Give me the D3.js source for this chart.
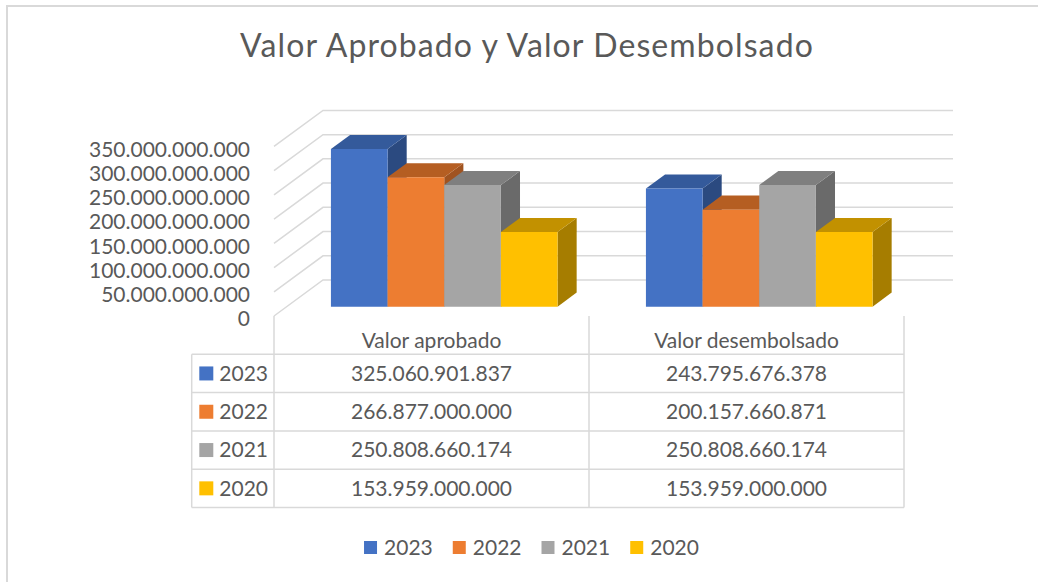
<!DOCTYPE html>
<html>
<head>
<meta charset="utf-8">
<script src="https://cdn.jsdelivr.net/npm/d3@7"></script>
<style>
  html, body { margin: 0; padding: 0; background: #fff; }
  svg { display: block; }
  text { font-family: Lato, "Open Sans", sans-serif; fill: #595959; }
</style>
</head>
<body>
<svg id="chart"></svg>
<script>
// Data.
const categories = ['Valor aprobado', 'Valor desembolsado'];
const years = ['2023', '2022', '2021', '2020'];
const values2023 = [325060901837, 243795676378];
const values2022 = [266877000000, 200157660871];
const values2021 = [250808660174, 250808660174];
const values2020 = [153959000000, 153959000000];
const seriesValues = [values2023, values2022, values2021, values2020];
const yTicks = [0, 50e9, 100e9, 150e9, 200e9, 250e9, 300e9, 350e9];

// Face colours: front, top, side.
const frontColors = ['#4472c4', '#ed7d31', '#a5a5a5', '#ffc000'];
const topColors = ['#345a9b', '#b55e22', '#7f7f7f', '#c29100'];
const sideColors = ['#2b4a80', '#a05320', '#6a6a6a', '#a67d00'];

const width = 1038, height = 582;
const grid = '#d9d9d9';
const fmt = d3.formatLocale({decimal: ',', thousands: '.', grouping: [3], currency: ['$', '']}).format(',d');

const svg = d3.select('#chart').attr('width', width).attr('height', height);

// Chart frame (only top and left edges are in view).
svg.append('path')
  .attr('d', `M7,${height} L7,6 L${width},6`)
  .attr('fill', 'none').attr('stroke', grid).attr('stroke-width', 2);

svg.append('text')
  .attr('x', 527).attr('y', 57)
  .attr('text-anchor', 'middle')
  .style('font-size', '32px')
  .style('letter-spacing', '1.1px')
  .text('Valor Aprobado y Valor Desembolsado');

// Scales on the front plane, plus an oblique depth vector.
const x = d3.scaleBand().domain(categories).range([274, 904]);
const y = d3.scaleLinear().domain([0, 350e9]).range([316, 146.4]);
const s = d3.scaleBand().domain(years).range([0, x.bandwidth()]).paddingInner(0).paddingOuter(0.78);
const DX = 49, DY = -36;
const f0 = 0.26, f1 = 0.65;  // bar front and back depth
const P = (px, py, f) => [px + f * DX, py + f * DY];
const poly = (pts) => 'M' + pts.map(p => p.join(',')).join('L') + 'Z';

const plot = svg.append('g');

// Walls.
const [x0, x1] = x.range();
yTicks.forEach((t) => {
  const a = P(x0, y(t), 0), b = P(x0, y(t), 1), c = P(x1, y(t), 1);
  plot.append('path')
    .attr('d', `M${a}L${b}L${c}`)
    .attr('fill', 'none').attr('stroke', grid).attr('stroke-width', 1.5);
});

// Axis labels.
plot.selectAll('.ylab').data(yTicks).join('text')
  .attr('class', 'ylab')
  .attr('x', 250).attr('y', d => y(d) + 3)
  .attr('dy', '0.35em')
  .attr('text-anchor', 'end')
  .style('font-size', '21px')
  .text(d => fmt(d));

// 3D bars, left to right so nearer faces overlap correctly.
categories.forEach((cat, ci) => {
  years.forEach((yr, si) => {
    const v = seriesValues[si][ci];
    const bx0 = x(cat) + s(yr), bx1 = bx0 + s.bandwidth();
    const yb = y(0), yt = y(v);
    const g = plot.append('g');
    g.append('path').attr('d', poly([P(bx1, yt, f0), P(bx1, yt, f1), P(bx1, yb, f1), P(bx1, yb, f0)]))
      .attr('fill', sideColors[si]);
    g.append('path').attr('d', poly([P(bx0, yt, f0), P(bx1, yt, f0), P(bx1, yt, f1), P(bx0, yt, f1)]))
      .attr('fill', topColors[si]);
    g.append('path').attr('d', poly([P(bx0, yt, f0), P(bx1, yt, f0), P(bx1, yb, f0), P(bx0, yb, f0)]))
      .attr('fill', frontColors[si]);
  });
});

// Data table.
const tLeft = 191.7, tTop = 316, headBottom = 354.3, rowH = 38.3;
const tBottom = headBottom + rowH * years.length;
const table = svg.append('g').attr('stroke', grid).attr('stroke-width', 1.5);
[x0, x(categories[1]), x1].forEach((px) => {
  table.append('line').attr('x1', px).attr('x2', px).attr('y1', tTop).attr('y2', tBottom);
});
table.append('line').attr('x1', tLeft).attr('x2', tLeft).attr('y1', headBottom).attr('y2', tBottom);
d3.range(years.length + 1).forEach((i) => {
  const py = headBottom + i * rowH;
  table.append('line').attr('x1', tLeft).attr('x2', x1).attr('y1', py).attr('y2', py);
});

svg.selectAll('.head').data(categories).join('text')
  .attr('class', 'head')
  .attr('x', d => x(d) + x.bandwidth() / 2).attr('y', 341)
  .attr('dy', '0.35em').attr('text-anchor', 'middle')
  .style('font-size', '21px')
  .text(d => d);

years.forEach((yr, si) => {
  const cy = headBottom + (si + 0.5) * rowH;
  svg.append('rect').attr('x', 199.3).attr('y', cy - 7).attr('width', 14).attr('height', 14)
    .attr('fill', frontColors[si]);
  svg.append('text').attr('x', 219.3).attr('y', cy).attr('dy', '0.35em')
    .style('font-size', '21px').text(yr);
  categories.forEach((cat, ci) => {
    svg.append('text')
      .attr('x', x(cat) + x.bandwidth() / 2).attr('y', cy).attr('dy', '0.35em')
      .attr('text-anchor', 'middle')
      .style('font-size', '21px')
      .text(fmt(seriesValues[si][ci]));
  });
});

// Legend.
const legend = svg.append('g');
let lx = 0;
years.forEach((yr, si) => {
  const item = legend.append('g').attr('transform', `translate(${lx},0)`);
  item.append('rect').attr('x', 0).attr('y', -6.5).attr('width', 13).attr('height', 13)
    .attr('fill', frontColors[si]);
  const t = item.append('text').attr('x', 20).attr('y', 0).attr('dy', '0.35em')
    .style('font-size', '21px').text(yr);
  lx += 20 + t.node().getComputedTextLength() + 20;
});
const legendW = lx - 20;
legend.attr('transform', `translate(${531.5 - legendW / 2},547.5)`);
</script>
</body>
</html>
